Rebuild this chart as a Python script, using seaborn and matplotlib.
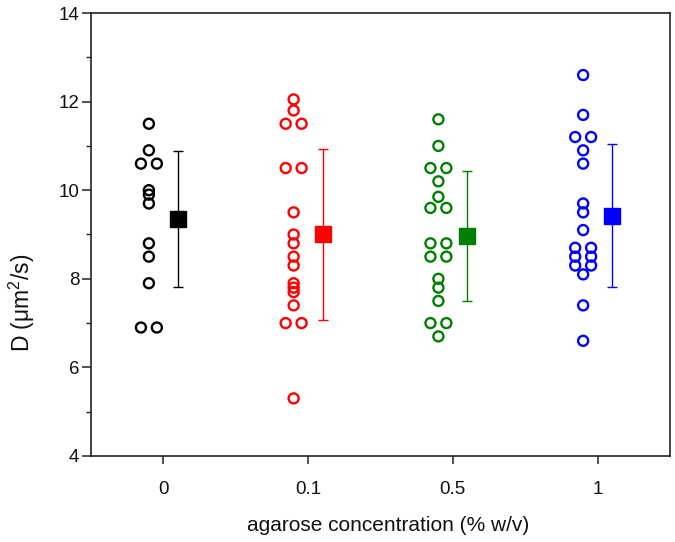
import numpy as np
import pandas as pd
import matplotlib
matplotlib.use("Agg")
import matplotlib.pyplot as plt
from matplotlib.ticker import MultipleLocator
import seaborn as sns

# ---- data ----
categories = ["0", "0.1", "0.5", "1"]
colors = ["#000000", "#FF0000", "#008000", "#0000FF"]
d_0 = [11.5, 10.9, 10.6, 10.6, 10.0, 9.9, 9.7, 8.8, 8.5, 7.9, 6.9, 6.9]
d_01 = [12.05, 11.8, 11.5, 11.5, 10.5, 10.5, 9.5, 9.0, 8.8, 8.5, 8.3, 7.9,
        7.8, 7.7, 7.4, 7.0, 7.0, 5.3]
d_05 = [11.6, 11.0, 10.5, 10.5, 10.2, 9.85, 9.6, 9.6, 8.8, 8.8, 8.5, 8.5,
        8.0, 7.8, 7.5, 7.0, 7.0, 6.7]
d_1 = [12.6, 11.7, 11.2, 11.2, 10.9, 10.6, 9.7, 9.5, 9.1, 8.7, 8.7, 8.5,
       8.5, 8.3, 8.3, 8.1, 7.4, 6.6]
groups = [d_0, d_01, d_05, d_1]

sns.set_theme(style="ticks")
plt.rcParams["font.family"] = ["Liberation Sans", "DejaVu Sans"]
plt.rcParams["mathtext.fontset"] = "custom"
plt.rcParams["mathtext.rm"] = "Liberation Sans"
plt.rcParams["mathtext.it"] = "Liberation Sans"

# build long table; horizontal spread for identical values (layout only)
rows = []
spread = 0.055
for gi, (cat, vals) in enumerate(zip(categories, groups)):
    vals = np.asarray(vals, dtype=float)
    uniq = {}
    for v in vals:
        uniq.setdefault(round(v, 3), 0)
        uniq[round(v, 3)] += 1
    used = {}
    for v in vals:
        key = round(v, 3)
        n = uniq[key]
        k = used.get(key, 0)
        used[key] = k + 1
        off = (k - (n - 1) / 2) * 2 * spread
        rows.append({"cat": cat, "idx": gi, "x": gi - 0.1 + off, "D": v})
df = pd.DataFrame(rows)

fig = plt.figure(figsize=(6.75, 5.42), dpi=100)
ax = fig.add_axes([0.1348, 0.1587, 0.8578, 0.8173])

sns.scatterplot(data=df, x="x", y="D", hue="cat", palette=colors,
                hue_order=categories, marker="o", s=52,
                facecolors="none", linewidth=1.7, legend=False, ax=ax)
# enforce open circles coloured by hue
for coll in ax.collections:
    fc = coll.get_facecolors()
    coll.set_edgecolors(fc)
    coll.set_facecolors("none")

stats = df.groupby("idx")["D"].agg(["mean", "std"]).reset_index()
for _, r in stats.iterrows():
    i = int(r["idx"])
    ax.errorbar(i + 0.1, r["mean"], yerr=r["std"], fmt="s", color=colors[i],
                markersize=11, elinewidth=1.0, capsize=3.3, capthick=1.0,
                zorder=3)

ax.set_xlim(-0.5, 3.5)
ax.set_ylim(4, 14)
ax.set_xticks(range(len(categories)))
ax.set_xticklabels(categories)
ax.yaxis.set_major_locator(MultipleLocator(2))
ax.yaxis.set_minor_locator(MultipleLocator(1))
ax.tick_params(axis="x", direction="out", length=6, width=1.1, labelsize=13.5,
               pad=12, color="#222222", labelcolor="#111111")
ax.tick_params(axis="y", which="major", direction="out", length=6.5, width=1.1,
               labelsize=13.5, pad=2, color="#222222", labelcolor="#111111")
ax.tick_params(axis="y", which="minor", direction="out", length=3.6, width=1.0,
               color="#222222")
for sp in ax.spines.values():
    sp.set_visible(True)
    sp.set_linewidth(1.2)
    sp.set_color("#222222")

ax.set_xlabel("agarose concentration (% w/v)", fontsize=15, labelpad=14,
              color="#111111")
ax.xaxis.set_label_coords(0.513, -0.135)
ax.set_ylabel(r"D ($\mu$m$^2$/s)", fontsize=16.5, color="#111111")
ax.yaxis.set_label_coords(-0.093, 0.345)

fig.savefig("out.png", dpi=100)
